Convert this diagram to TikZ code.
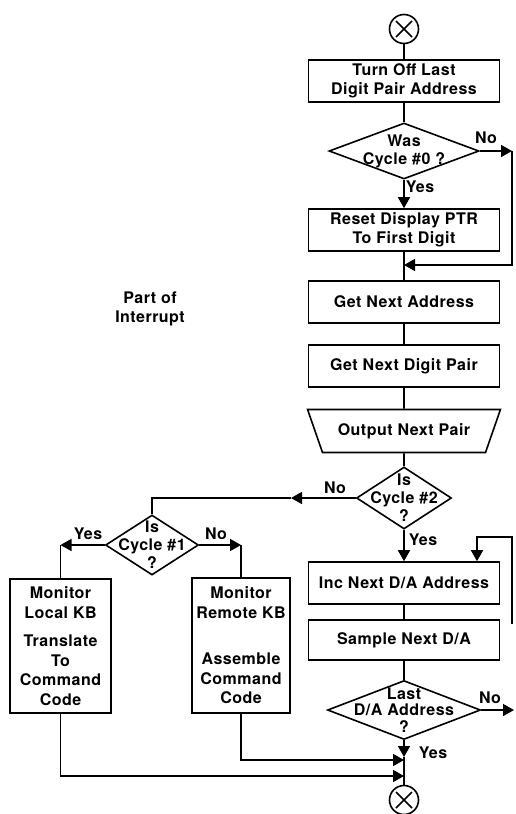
\documentclass[tikz,border=0pt]{standalone}
\usepackage{fontspec}
\setmainfont{TeX Gyre Heros}[LetterSpace=3]
\usetikzlibrary{shapes.geometric,arrows.meta}

\begin{document}
\begin{tikzpicture}[x=1pt,y=-1pt,line width=1.6pt,
  >={Triangle[length=11pt,width=12pt]},
  every node/.style={font=\fontsize{16}{19.5}\selectfont\bfseries},
  proc/.style={draw,rectangle,minimum width=191pt,minimum height=42pt,align=center,inner sep=2pt},
  decision/.style={draw,diamond,inner sep=0pt},
  dtext/.style={align=center,font=\fontsize{16}{18}\selectfont\bfseries},
  ioblock/.style={draw,trapezium,trapezium left angle=60,trapezium right angle=60,
    shape border rotate=180,trapezium stretches=true,minimum width=193pt,minimum height=43pt},
  endpt/.style={draw,circle,minimum size=29pt,inner sep=0pt,
    path picture={\draw ([shift={(-8pt,-8pt)}]path picture bounding box.center) -- ([shift={(8pt,8pt)}]path picture bounding box.center)
      ([shift={(-8pt,8pt)}]path picture bounding box.center) -- ([shift={(8pt,-8pt)}]path picture bounding box.center);}},
  ]
  \useasboundingbox (0,0) rectangle (515,814);

  % main column
  \draw (404,29) node[endpt] (entry) {};
  \draw (404,81) node[proc] (turnoff) {Turn Off Last\\Digit Pair Address};
  \draw (404,151) node[decision,minimum width=150pt,minimum height=56pt,
     label={[dtext]center:Was\\Cycle \#0 ?}] (was0) {};
  \draw (404,230) node[proc] (reset) {Reset Display PTR\\To First Digit};
  \draw (404,302) node[proc] (getaddr) {Get Next Address};
  \draw (404,366) node[proc] (getpair) {Get Next Digit Pair};
  \draw (404,431) node[ioblock] (outpair) {Output Next Pair};
  \draw (404,498) node[decision,minimum width=95pt,minimum height=62pt,
     label={[dtext]center:Is\\Cycle \#2\\?}] (cyc2) {};
  \draw (404,583) node[proc] (inc) {Inc Next D/A Address};
  \draw (404,640) node[proc,minimum height=40pt] (sample) {Sample Next D/A};
  \draw (404,710) node[decision,minimum width=153pt,minimum height=59pt,
     label={[dtext,font=\fontsize{16}{16.5}\selectfont\bfseries]center:Last\\D/A Address\\?}] (last) {};
  \draw (404,800) node[endpt] (exit) {};

  % keyboard branch
  \draw (152,545) node[decision,minimum width=93pt,minimum height=60pt,
     label={[dtext]center:Is\\Cycle \#1\\?}] (cyc1) {};
  \draw (60.5,646) node[proc,minimum width=101pt,minimum height=134pt] (local)
     {Monitor\\Local KB\\[9pt]Translate\\To\\Command\\Code};
  \draw (241,645.5) node[proc,minimum width=98pt,minimum height=135pt] (remote)
     {Monitor\\Remote KB\\[27pt]Assemble\\Command\\Code};

  \draw (150,309) node[align=center] (note) {Part of\\Interrupt};

  \coordinate (merge) at (404,265);
  \coordinate (noturn) at (512,151);
  \coordinate (nomid) at (291,498);
  \coordinate (back) at (512,624);
  \coordinate (yesend) at (404,757);
  \coordinate (merge2) at (404,760);
  \coordinate (merge3) at (404,776);
  \coordinate (noexit) at (514,710);

  \draw (entry) -- (turnoff) -- (was0);
  \draw[->] (was0) -- (reset);
  \draw[->] (was0.east) -- (noturn);
  \draw[->] (noturn) |- (merge);
  \draw (reset) -- (getaddr) -- (getpair) -- (outpair) -- (cyc2);
  \draw[->] (cyc2) -- (inc);
  \draw (inc) -- (sample) -- (last);
  \draw[->] (back) -- ++(0,-87) -| ([xshift=73pt]inc.north);
  \draw[->] (last.east) -- (noexit);
  \draw[->] (last.south) -- (yesend);
  \draw (yesend) -- (exit);

  \draw[->] (cyc2.west) -- (nomid);
  \draw (nomid) -| (cyc1.north);
  \draw[->] (cyc1.west) -- (cyc1.west -| local.north);
  \draw (cyc1.west -| local.north) -- (local.north);
  \draw[->] (cyc1.east) -- (cyc1.east -| remote.north);
  \draw (cyc1.east -| remote.north) -- (remote.north);
  \draw[->] (remote.south) |- (merge2);
  \draw[->] (local.south) |- (merge3);

  % branch labels
  \draw (486,138) node (n0) {No};
  \draw (420,187) node (y0) {Yes};
  \draw (335,488) node (n2) {No};
  \draw (423,540) node (y2) {Yes};
  \draw (88,534) node (y1) {Yes};
  \draw (216,534) node (n1) {No};
  \draw (490,698) node (n3) {No};
  \draw (433,753) node (y3) {Yes};
\end{tikzpicture}
\end{document}
